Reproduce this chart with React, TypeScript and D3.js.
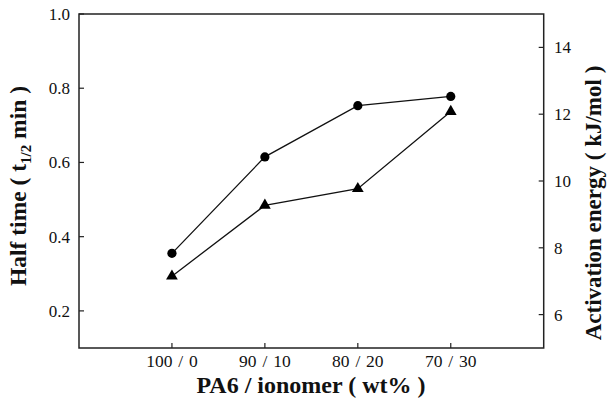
import React, { useEffect, useRef } from "react";
import * as d3 from "d3";

// Blend composition (PA6 / ionomer, wt%)
const categories = ["100 / 0", "90 / 10", "80 / 20", "70 / 30"];
// Half time of crystallization, t1/2 (min) — left axis
const halfTime = [0.355, 0.615, 0.753, 0.778];
// Activation energy (kJ/mol) — right axis
const activationEnergy = [7.15, 9.27, 9.77, 12.08];

const leftTicks = [0.2, 0.4, 0.6, 0.8, 1.0];
const rightTicks = [6, 8, 10, 12, 14];

const W = 608;
const H = 401;
const M = { left: 79, right: 543.7, top: 14, bottom: 348 };
const FONT = "'Liberation Serif', 'Times New Roman', serif";

export default function App() {
  const ref = useRef<SVGSVGElement | null>(null);

  useEffect(() => {
    const svg = d3.select(ref.current);
    svg.selectAll("*").remove();

    const x = d3.scalePoint<string>().domain(categories).range([M.left, M.right]).padding(1);
    const yL = d3.scaleLinear().domain([0.1, 1.0]).range([M.bottom, M.top]);
    const yR = d3.scaleLinear().domain([5, 15]).range([M.bottom, M.top]);

    const axisColor = "#222";

    // Frame
    svg.append("rect")
      .attr("x", M.left).attr("y", M.top)
      .attr("width", M.right - M.left).attr("height", M.bottom - M.top)
      .attr("fill", "none").attr("stroke", axisColor).attr("stroke-width", 1.5);

    // Left axis ticks (inward)
    const gl = svg.append("g");
    leftTicks.forEach((t) => {
      const yy = yL(t);
      gl.append("line").attr("x1", M.left).attr("x2", M.left + 5).attr("y1", yy).attr("y2", yy)
        .attr("stroke", axisColor).attr("stroke-width", 1.2);
      gl.append("text").attr("x", 70).attr("y", yy).attr("dy", "0.35em")
        .attr("text-anchor", "end").attr("font-family", FONT).attr("font-size", 17)
        .attr("fill", "#111").text(d3.format(".1f")(t));
    });

    // Right axis ticks (inward)
    const gr = svg.append("g");
    rightTicks.forEach((t) => {
      const yy = yR(t);
      gr.append("line").attr("x1", M.right - 5).attr("x2", M.right).attr("y1", yy).attr("y2", yy)
        .attr("stroke", axisColor).attr("stroke-width", 1.2);
      gr.append("text").attr("x", 554).attr("y", yy).attr("dy", "0.35em")
        .attr("text-anchor", "start").attr("font-family", FONT).attr("font-size", 17)
        .attr("fill", "#111").text(String(t));
    });

    // Bottom axis ticks (inward)
    const gb = svg.append("g");
    categories.forEach((c) => {
      const xx = x(c)!;
      gb.append("line").attr("x1", xx).attr("x2", xx).attr("y1", M.bottom - 5).attr("y2", M.bottom)
        .attr("stroke", axisColor).attr("stroke-width", 1.2);
      gb.append("text").attr("x", xx).attr("y", 367).attr("text-anchor", "middle")
        .attr("font-family", FONT).attr("font-size", 17.5).attr("fill", "#111")
        .attr("word-spacing", 1.5).text(c);
    });

    // Axis titles
    svg.append("text").attr("x", 311).attr("y", 393).attr("text-anchor", "middle")
      .attr("font-family", FONT).attr("font-size", 24).attr("font-weight", "bold")
      .attr("fill", "#111").text("PA6 / ionomer ( wt% )");

    const lt = svg.append("text")
      .attr("transform", "translate(26,186) rotate(-90)")
      .attr("text-anchor", "middle").attr("font-family", FONT).attr("font-size", 23.5)
      .attr("font-weight", "bold").attr("fill", "#111");
    lt.append("tspan").text("Half time ( t");
    lt.append("tspan").attr("font-size", 15).attr("dy", 5).text("1/2");
    lt.append("tspan").attr("dy", -5).text(" min )");

    svg.append("text")
      .attr("transform", "translate(601,203) rotate(-90)")
      .attr("text-anchor", "middle").attr("font-family", FONT).attr("font-size", 23)
      .attr("font-weight", "bold").attr("fill", "#111")
      .text("Activation energy ( kJ/mol )");

    // Half-time series (circles)
    const lineL = d3.line<number>().x((_, i) => x(categories[i])!).y((d) => yL(d));
    svg.append("path").attr("d", lineL(halfTime)).attr("fill", "none")
      .attr("stroke", "#111").attr("stroke-width", 1.3);
    svg.append("g").selectAll("circle").data(halfTime).join("circle")
      .attr("cx", (_, i) => x(categories[i])!).attr("cy", (d) => yL(d))
      .attr("r", 4.6).attr("fill", "#000");

    // Activation-energy series (triangles)
    const lineR = d3.line<number>().x((_, i) => x(categories[i])!).y((d) => yR(d));
    svg.append("path").attr("d", lineR(activationEnergy)).attr("fill", "none")
      .attr("stroke", "#111").attr("stroke-width", 1.3);
    const tri = d3.symbol().type(d3.symbolTriangle).size(60);
    svg.append("g").selectAll("path").data(activationEnergy).join("path")
      .attr("transform", (d, i) => `translate(${x(categories[i])},${yR(d)})`)
      .attr("d", tri()!).attr("fill", "#000");
  }, []);

  return (
    <svg
      ref={ref}
      width={W}
      height={H}
      style={{ position: "absolute", left: 0, top: 0, background: "#fff" }}
    />
  );
}
